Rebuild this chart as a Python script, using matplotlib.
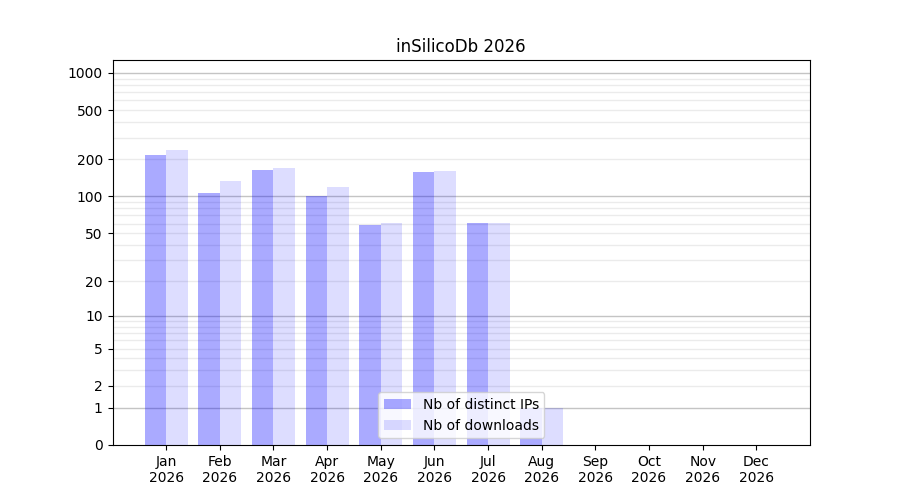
import matplotlib
matplotlib.use("Agg")
import matplotlib.pyplot as plt
import numpy as np
from matplotlib.ticker import FixedLocator, FixedFormatter, NullLocator

months = ["Jan", "Feb", "Mar", "Apr", "May", "Jun", "Jul", "Aug", "Sep", "Oct", "Nov", "Dec"]
year = "2026"
distinct_ips = [217, 107, 164, 100, 58, 158, 61, 1, 0, 0, 0, 0]
downloads = [239, 134, 170, 119, 61, 161, 61, 1, 0, 0, 0, 0]
ytick_values = [0, 1, 2, 5, 10, 20, 50, 100, 200, 500, 1000]
major_grid = [1, 10, 100, 1000]

def fwd(y):
    return np.log10(np.maximum(y, 0) + 1)

def inv(y):
    return 10 ** y - 1

fig, ax = plt.subplots(figsize=(9, 5), dpi=100)
ax.set_yscale("function", functions=(fwd, inv))

x = np.arange(len(months))
w = 0.4
ax.bar(x - w / 2, distinct_ips, width=w, color="blue", alpha=0.333, label="Nb of distinct IPs", zorder=2)
ax.bar(x + w / 2, downloads, width=w, color="blue", alpha=0.133, label="Nb of downloads", zorder=2)

# grid lines
for d in [1, 10, 100]:
    for m in range(2, 10):
        ax.axhline(d * m, color="#ebebeb", lw=1, zorder=1)
for g in major_grid:
    ax.axhline(g, color="#c4c4c4", lw=1, zorder=1)

ax.yaxis.set_major_locator(FixedLocator(ytick_values))
ax.yaxis.set_major_formatter(FixedFormatter([str(v) for v in ytick_values]))
ax.yaxis.set_minor_locator(NullLocator())
ax.set_ylim(0, inv(3.105))
ax.set_xlim(-1, 12)
ax.set_xticks(x)
ax.set_xticklabels([f"{m}\n{year}" for m in months])
ax.set_title("inSilicoDb 2026")
ax.legend(loc="lower center")

fig.savefig("out.png", dpi=100)
